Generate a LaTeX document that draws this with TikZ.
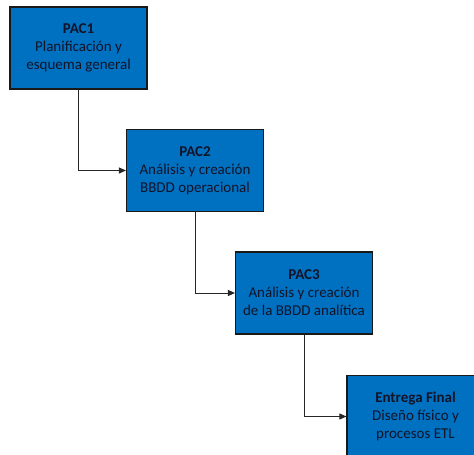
\documentclass[tikz,border=0pt]{standalone}
\usepackage{fontspec}
\setmainfont{Carlito}
\usetikzlibrary{arrows.meta}
\definecolor{pacblue}{RGB}{0,112,192}
\definecolor{pactext}{RGB}{20,20,40}
\begin{document}
\begin{tikzpicture}[x=1pt,y=-1pt,
  phase/.style={draw=black!90,line width=1.1pt,fill=pacblue,text=pactext,
    minimum width=137pt,minimum height=82pt,inner sep=0pt,align=center,
    font=\fontsize{15}{18}\selectfont},
  flow/.style={draw=black!85,line width=0.9pt,-{Triangle[length=7pt,width=6pt]}}]
\useasboundingbox (0,0) rectangle (474,455);
\clip (0,0) rectangle (474,455);
\node[phase] (p1) at (78.5,48) {\textbf{PAC1}\\Planificación y\\esquema general};
\node[phase] (p2) at (195,170.5) {\textbf{PAC2}\\Análisis y creación\\BBDD operacional};
\node[phase] (p3) at (304,293) {\textbf{PAC3}\\Análisis y creación\\de la BBDD analítica};
\node[phase] (p4) at (415.5,416.5) {\textbf{Entrega Final}\\Diseño físico y\\procesos ETL};
\draw[flow] (p1.south) |- (p2.west);
\draw[flow] (p2.south) |- (p3.west);
\draw[flow] (p3.south) |- (p4.west);
\end{tikzpicture}
\end{document}
